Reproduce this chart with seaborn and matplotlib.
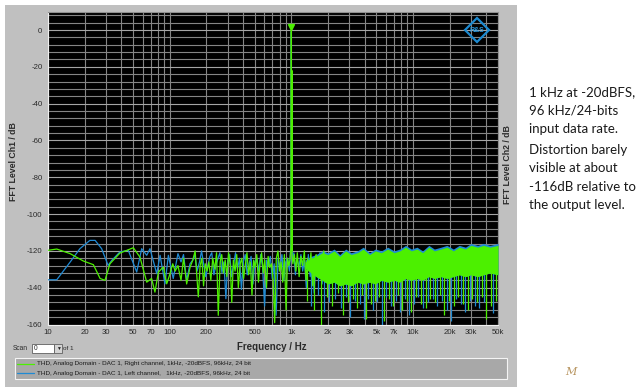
"""THD FFT plot - DAC 1, 1 kHz at -20 dBFS"""
import numpy as np
import seaborn as sns
import matplotlib.pyplot as plt
from matplotlib.patches import Rectangle
from matplotlib.ticker import FixedLocator, FixedFormatter, NullFormatter

# x axis
XTICK_VALUES = [10, 20, 30, 50, 70, 100, 200, 500, 1000, 2000, 3000, 5000, 7000,
                10000, 20000, 30000, 50000]
XTICK_LABELS = ['10', '20', '30', '50', '70', '100', '200', '500', '1k', '2k', '3k',
                '5k', '7k', '10k', '20k', '30k', '50k']
YTICK_VALUES = [0, -20, -40, -60, -80, -100, -120, -140, -160]
YTICK_LABELS = ['0', '-20', '-40', '-60', '-80', '-100', '-120', '-140', '-160']

# right channel (green), 10 Hz .. 2 kHz
GREEN_F = [10, 11.8, 15.2, 19.5, 23.6, 26.8, 29.4, 32.3, 39, 50.3, 57, 64.8, 71, 75.7,
           80.8, 88.7, 94.6,
           100, 106, 111, 117, 124, 130, 138, 147, 155, 162,
           167, 172, 178, 184, 190, 196, 203, 210, 218, 226,
           235, 243, 251, 260, 268, 277, 286, 295, 305, 315,
           324, 334, 345, 356, 367, 380, 392, 405, 418, 432,
           446, 460, 475, 490, 505, 520, 537, 553, 570, 588,
           605, 625, 645, 665, 686, 708, 730, 753, 777, 800,
           825, 850, 877, 905, 930, 955, 975,
           993, 1000, 1006, 1009, 1011, 1013,
           1030, 1060, 1090, 1120, 1160, 1200,
           1240, 1280, 1320, 1360, 1400, 1450, 1500, 1550, 1600, 1660,
           1720, 1780, 1850, 1920, 2000]
GREEN_DB = [-119.7, -119, -121.5, -125.5, -127.5, -135, -136, -127, -121.2, -118.3, -123.4,
            -137, -135, -142.4, -131.5, -128.8, -137.9,
            -133, -127, -131, -128, -136, -124, -138, -129, -125, -120,
            -133, -145, -128, -124, -139, -127, -131, -126, -136, -124,
            -130, -121, -155, -126, -122, -132, -125, -134, -121, -128,
            -148, -125, -131, -122, -140, -127, -124, -135, -128, -121,
            -133, -126, -144, -125, -129, -122, -137, -127, -121, -132,
            -125, -140, -123, -129, -127, -135, -159, -124, -120, -131,
            -126, -137, -122, -152, -124, -128, -125,
            -118, 0, -120, -120, -22, -121,
            -127, -122, -131, -121, -134, -123,
            -128, -120, -136, -124, -131, -121, -139, -125, -122, -134,
            -123, -129, -120, -137, -124]

# left channel (blue), 10 Hz .. 2 kHz
BLUE_F = [10, 11.8, 15.2, 18.3, 22.1, 24.4, 27.6, 31.2, 33.4, 39, 45.7, 53.6, 58.9, 64.8,
          68.9, 78.3, 83.4, 91.5, 97.6,
          107, 117, 124, 130, 138, 147, 155, 161, 168, 176,
          183, 190, 198, 206, 214, 222, 231, 240, 250, 259,
          269, 279, 290, 300, 312, 323, 336, 348, 361, 375,
          389, 403, 418, 434, 450, 467, 484, 502, 521, 540,
          560, 581, 603, 625, 648, 672, 697, 723, 750, 778,
          807, 837, 868, 900, 933, 965, 985,
          995, 1000, 1005, 1012, 1020, 1050, 1080, 1110, 1150, 1200,
          1240, 1280, 1330, 1380, 1430, 1480, 1540, 1600, 1660, 1720,
          1790, 1860, 1930, 2000]
BLUE_DB = [-135.7, -135.7, -126.1, -118.8, -114.3, -114.3, -118.8, -127.9, -125.2, -120.6,
           -119.7, -131.5, -118.8, -122.4, -118.8, -132.4, -122.4, -137.9, -122.4,
           -135, -121.5, -126, -122, -136, -127, -125, -122, -131, -126,
           -120, -127, -134, -128, -123, -121, -133, -128, -124, -121,
           -132, -126, -146, -125, -122, -134, -127, -121, -130, -124,
           -141, -126, -122, -133, -127, -123, -138, -126, -124, -131,
           -122, -129, -150, -125, -128, -123, -135, -127, -155, -124,
           -129, -122, -136, -126, -124, -131, -120,
           -115, -1, -118, -57, -126, -121, -133, -124, -129, -122,
           -131, -125, -140, -122, -134, -126, -143, -124, -130, -121,
           -138, -126, -122, -133]

# dense noise band above ~1.3 kHz: top / bottom of the solid area
BAND_F = [1300, 1450, 1600, 1800, 2000, 2250, 2500, 2800, 3100, 3500, 3900, 4400, 4900,
          5500, 6200, 7000, 7800, 8700, 9700, 10800, 12000, 13500, 15000, 17000, 19000,
          21500, 24000, 27000, 30000, 34000, 38000, 43000, 50000]
GREEN_TOP = [-126, -124, -123, -121, -122, -120, -123, -120, -122, -121, -119, -122, -120,
             -121, -119, -121, -120, -118, -120, -119, -121, -118, -120, -119, -118,
             -120, -118, -119, -117, -118, -117, -118, -117]
GREEN_BOT = [-129, -132, -134, -136, -138, -137, -139, -138, -139, -137, -138, -137, -138,
             -136, -137, -136, -137, -135, -136, -135, -136, -134, -135, -134, -135,
             -134, -133, -134, -133, -134, -133, -132, -133]
BLUE_TOP = [-125, -123, -122, -120, -121, -119, -122, -119, -121, -120, -118, -121, -119,
            -120, -118, -120, -119, -117, -119, -118, -120, -117, -119, -118, -117,
            -119, -117, -118, -116, -117, -116, -117, -116]

# downward spikes out of the band
GREEN_SPIKE_F = [1350, 1550, 1750, 1950, 2150, 2400, 2650, 2900, 3200, 3500, 3800, 4100,
                 4500, 4900, 5300, 5800, 6300, 6900, 7500, 8200, 8900, 9700, 10600, 11600,
                 12700, 13900, 15200, 16600, 18100, 19800, 21600, 23600, 25800, 28200,
                 30800, 33600, 36700, 40100, 43800, 47800]
GREEN_SPIKE_DB = [-147, -152, -160, -145, -150, -143, -155, -148, -146, -151, -144, -157,
                  -149, -147, -145, -158, -146, -150, -144, -152, -147, -153, -145, -149,
                  -151, -146, -148, -144, -155, -147, -150, -145, -149, -152,
                  -146, -148, -145, -157, -150, -147]
BLUE_SPIKE_F = [1450, 1650, 1850, 2050, 2300, 2550, 2800, 3050, 3350, 3650, 3950, 4300,
                4700, 5100, 5550, 6050, 6600, 7200, 7850, 8550, 9300, 10150, 11100, 12150,
                13300, 14550, 15900, 17350, 18950, 20700, 22600, 24700, 27000, 29500,
                32200, 35200, 38400, 45700]
BLUE_SPIKE_DB = [-150, -144, -153, -148, -146, -151, -145, -156, -147, -149, -157, -146,
                 -152, -148, -160, -145, -150, -147, -153, -146, -155, -149, -145, -151,
                 -148, -146, -150, -147, -152, -158, -146, -149, -153, -147,
                 -150, -151, -148, -154]

NOTE_LINES = ['1 kHz at -20dBFS,', '96 kHz/24-bits', 'input data rate.']
NOTE_LINES_2 = ['Distortion barely', 'visible at about', '-116dB relative to', 'the output level.']
LEGEND_LABELS = ['THD, Analog Domain - DAC 1, Right channel, 1kHz, -20dBFS, 96kHz, 24 bit',
                 'THD, Analog Domain - DAC 1, Left channel,   1kHz, -20dBFS, 96kHz, 24 bit']

GREEN = '#4cf000'
BLUE = '#1f8ad4'
W, H = 640, 392


def fx(px):
    return px / W


def fy(py):
    return 1 - py / H


sns.set_style("dark")
plt.rcParams['font.family'] = ['Liberation Sans', 'DejaVu Sans']

fig = plt.figure(figsize=(6.4, 3.92), dpi=100, facecolor='white')

# gray instrument panel
fig.patches.append(Rectangle((fx(5), fy(387)), 512 / W, 382 / H, transform=fig.transFigure,
                             facecolor='#c0c0c0', edgecolor='none', zorder=-5))
# legend box
fig.patches.append(Rectangle((fx(15), fy(379)), 492 / W, 21.5 / H, transform=fig.transFigure,
                             facecolor='#a8a8a8', edgecolor='#f4f4f4', lw=0.8, zorder=-4))

ax = fig.add_axes([fx(48), fy(324.5), 450 / W, 312.9 / H])
ax.set_zorder(2)
ax.set_facecolor('black')

# traces
sns.lineplot(x=BLUE_F, y=BLUE_DB, ax=ax, color=BLUE, lw=0.9, estimator=None, sort=False, zorder=3)
ax.fill_between(BAND_F, GREEN_BOT, BLUE_TOP, color=BLUE, lw=0, zorder=3)
ax.vlines(BLUE_SPIKE_F, BLUE_SPIKE_DB, -130, color=BLUE, lw=0.9, zorder=3)
sns.lineplot(x=GREEN_F, y=GREEN_DB, ax=ax, color=GREEN, lw=0.9, estimator=None, sort=False, zorder=4)
ax.fill_between(BAND_F, GREEN_BOT, GREEN_TOP, color=GREEN, lw=0, zorder=4)
ax.vlines(GREEN_SPIKE_F, GREEN_SPIKE_DB, -130, color=GREEN, lw=0.9, zorder=4)
ax.plot([1000], [1.8], marker='v', color=GREEN, ms=5, zorder=5)

# axes / grid
ax.set_xscale('log')
ax.set_xlim(10, 50000)
ax.set_ylim(-160, 10)
ax.xaxis.set_major_locator(FixedLocator(XTICK_VALUES))
ax.xaxis.set_major_formatter(FixedFormatter(XTICK_LABELS))
minor_x = [m * 10 ** d for d in range(1, 5) for m in range(1, 10) if m * 10 ** d <= 50000]
ax.xaxis.set_minor_locator(FixedLocator(minor_x))
ax.xaxis.set_minor_formatter(NullFormatter())
ax.yaxis.set_major_locator(FixedLocator(YTICK_VALUES))
ax.yaxis.set_major_formatter(FixedFormatter(YTICK_LABELS))
ax.yaxis.set_minor_locator(FixedLocator(list(range(-160, 9, 4))))
ax.grid(which='both', color='#858585', lw=0.8)
ax.grid(which='major', axis='y', color='#a5a5a5', lw=0.8)
ax.set_axisbelow(True)
ax.tick_params(which='both', length=0, labelsize=5.6, labelcolor='#2a2a2a')
ax.tick_params(axis='x', pad=3)
ax.tick_params(axis='y', pad=4)
for side in ['left', 'bottom']:
    ax.spines[side].set_color('#f0f0f0')
    ax.spines[side].set_linewidth(0.8)
for side in ['top', 'right']:
    ax.spines[side].set_color('#909090')
    ax.spines[side].set_linewidth(0.8)

ax.set_xlabel('')
ax.set_ylabel('FFT Level Ch1 / dB', fontsize=6.3, fontweight='bold', color='#2a2a2a')
ax.yaxis.set_label_coords(fx(18 - 48) * W / 450, 0.52)
fig.text(fx(507), fy(165), 'FFT Level Ch2 / dB', rotation=90, fontsize=6.3, fontweight='bold',
         color='#2a2a2a', ha='center', va='center')
fig.text(fx(272), fy(347), 'Frequency / Hz', fontsize=7, fontweight='bold', color='#2a2a2a',
         ha='center', va='center')

# R&S logo
ax.plot([0.953], [0.94], transform=ax.transAxes, marker='D', ms=12, mfc='none',
        mec='#1c8ad0', mew=1.6, zorder=6, clip_on=False)
ax.text(0.953, 0.94, 'R&S', transform=ax.transAxes, fontsize=5, fontweight='bold',
        color='#2a9ae0', ha='center', va='center', zorder=7)

# scan control
fig.text(fx(13), fy(348), 'Scan', fontsize=4.8, color='#2a2a2a', va='center')
fig.patches.append(Rectangle((fx(32), fy(352.5)), 22 / W, 8.5 / H, transform=fig.transFigure,
                             facecolor='white', edgecolor='#606060', lw=0.6, zorder=2))
fig.patches.append(Rectangle((fx(54), fy(352.5)), 8 / W, 8.5 / H, transform=fig.transFigure,
                             facecolor='#d4d4d4', edgecolor='#606060', lw=0.6, zorder=2))
fig.text(fx(34), fy(348), '0', fontsize=4.8, color='#2a2a2a', va='center', zorder=3)
fig.text(fx(58), fy(348.5), '▼', fontsize=3.5, color='#202020', va='center', ha='center', zorder=3)
fig.text(fx(63), fy(348.5), 'of 1', fontsize=4.6, color='#2a2a2a', va='center')

# legend entries
for yy, col, lab in [(364, GREEN, LEGEND_LABELS[0]), (373, BLUE, LEGEND_LABELS[1])]:
    fig.lines.append(plt.Line2D([fx(17), fx(34)], [fy(yy), fy(yy)], transform=fig.transFigure,
                                color=col, lw=0.9, zorder=3))
    fig.text(fx(37), fy(yy), lab, fontsize=4.6, color='#1a1a1a', va='center', zorder=3)

# side notes
note_font = ['Lato', 'DejaVu Sans']
for i, line in enumerate(NOTE_LINES):
    fig.text(fx(529), fy(92 + 18.4 * i), line, fontsize=9.5, family=note_font,
             color='#1a1a1a', va='center')
for i, line in enumerate(NOTE_LINES_2):
    fig.text(fx(529), fy(150 + 18.4 * i), line, fontsize=9.5, family=note_font,
             color='#1a1a1a', va='center')

# signature mark
fig.text(fx(571), fy(372), 'M', fontsize=8, family=['DejaVu Serif'], style='italic',
         color='#b89560', ha='center', va='center')

fig.savefig('out.png', dpi=100, facecolor='white')
